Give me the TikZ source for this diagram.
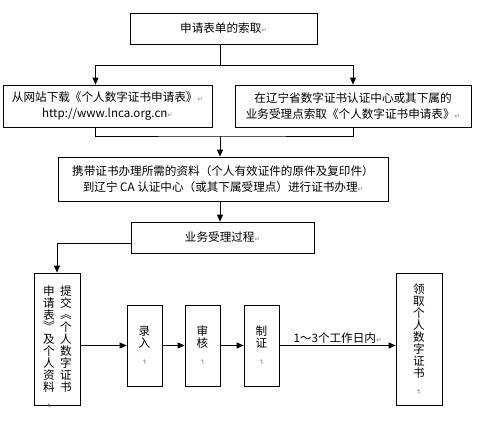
\documentclass[tikz,border=0pt]{standalone}
\usepackage{fontspec}
\usepackage{graphicx}
\setmainfont{Noto Sans CJK SC}
\newfontfamily\symfont{DejaVu Sans}
\usetikzlibrary{arrows.meta}

% Word paragraph marks, as printed in the scan
\newcommand{\retmark}{{\symfont\fontsize{6.5}{6.5}\selectfont\color{gray}↵}}
\newcommand{\vretmark}{\rotatebox{-90}{\retmark}}
% brackets turned for vertical text
\newcommand{\vopen}{\rotatebox[origin=c]{-90}{《}}
\newcommand{\vclose}{\rotatebox[origin=c]{-90}{》}}

\tikzset{
  box/.style={draw,line width=0.8pt,inner sep=0pt,align=center,
    font=\fontsize{11.6}{16}\selectfont},
  vbox/.style={box,font=\fontsize{11.6}{12}\selectfont},
  conn/.style={line width=0.8pt},
  arr/.style={conn,-{Triangle[length=7pt,width=6pt]}}
}

\begin{document}
\begin{tikzpicture}[x=1pt,y=-1pt]
         \useasboundingbox (0,0) rectangle (480,431) ;
         % top row
         \node[box,minimum width=187pt,minimum height=31pt] (apply) at (223.5,28.5) {申请表单的索取\retmark} ;
         \node[box,minimum width=209pt,minimum height=42pt] (web) at (107.5,106)
           {从网站下载《个人数字证书申请表》\retmark\\http://www.lnca.org.cn\retmark} ;
         \node[box,minimum width=236pt,minimum height=42pt] (office) at (353,106)
           {在辽宁省数字证书认证中心或其下属的\\业务受理点索取《个人数字证书申请表》\retmark} ;
         \node[box,minimum width=330pt,minimum height=44pt] (carry) at (223,179)
           {携带证书办理所需的资料（个人有效证件的原件及复印件）\\到辽宁 CA 认证中心（或其下属受理点）进行证书办理\retmark} ;
         \node[box,minimum width=183pt,minimum height=31pt] (proc) at (222.5,237.5) {业务受理过程\retmark} ;
         % bottom row
         \node[box,minimum width=46pt,minimum height=132pt] (submit) at (57,339) {} ;
         \node[vbox,draw=none,anchor=north] (submitR) at (66,285)
           {提\\交\\\vopen\\个\\人\\数\\字\\证\\书} ;
         \node[vbox,draw=none,anchor=north] (submitL) at (49,285)
           {申\\请\\表\\\vclose\\及\\个\\人\\资\\料\\\vretmark} ;
         \node[vbox,minimum width=35pt,minimum height=81pt] (enter) at (144.5,345.5) {录\\入\\\vretmark} ;
         \node[vbox,minimum width=35pt,minimum height=81pt] (audit) at (202.5,345.5) {审\\核\\\vretmark} ;
         \node[vbox,minimum width=35pt,minimum height=81pt] (make) at (261.5,345.5) {制\\证\\\vretmark} ;
         \node[vbox,minimum width=46pt,minimum height=132pt] (collect) at (419,339)
           {领\\取\\个\\人\\数\\字\\证\\书\\\vretmark} ;
         % connectors
         \coordinate (split) at (220,65) ;
         \coordinate (join) at (220,136) ;
         \draw[conn] (apply.south -| split) -- (split) ;
         \draw[arr] (split) -| ([xshift=-12pt]web.north) ;
         \draw[arr] (split) -| (office.north) ;
         \draw[conn] ([xshift=-12pt]web.south) |- (join) -| (office.south) ;
         \draw[arr] (join) -- (carry.north -| join) ;
         \draw[arr] (carry.south -| join) -- (proc.north -| join) ;
         \draw[arr] ([yshift=-5.5pt]proc.west) -| (submit.north) ;
         \draw[arr] (submit.east |- enter.west) -- (enter.west) ;
         \draw[arr] (enter.east) -- (audit.west) ;
         \draw[arr] (audit.east) -- (make.west) ;
         \draw[arr] (make.east) -- node[above,inner sep=1.5pt,font=\fontsize{11.6}{12}\selectfont] (days)
           {1～3个工作日内\retmark} (collect.west |- make.east) ;
\end{tikzpicture}
\end{document}
